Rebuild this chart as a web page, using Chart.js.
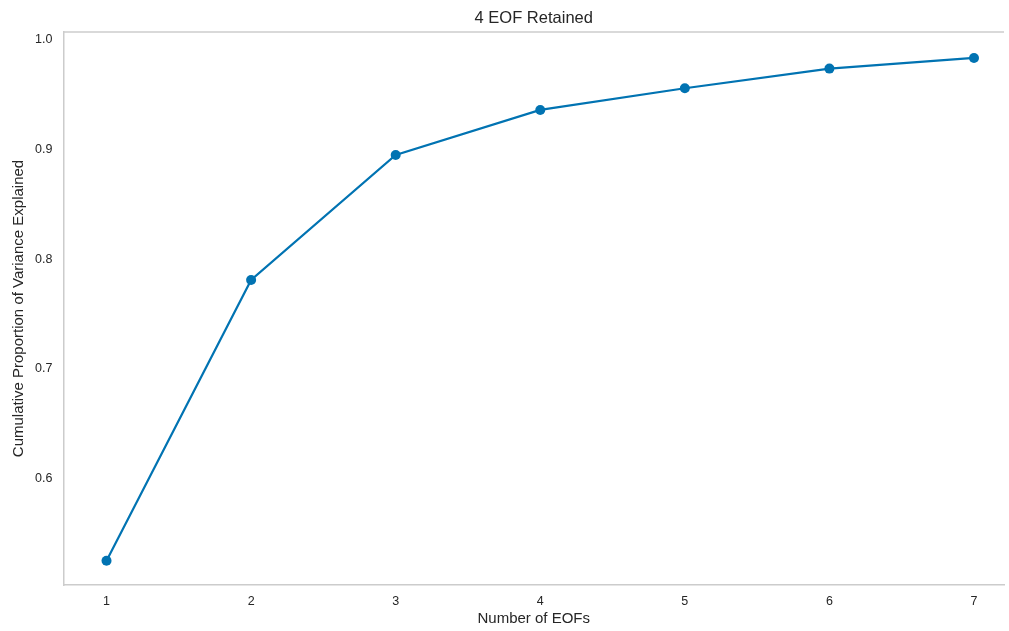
<!DOCTYPE html>
<html>
<head>
<meta charset="utf-8">
<script src="https://cdn.jsdelivr.net/npm/chart.js@4.4.0/dist/chart.umd.min.js"></script>
<style>
  html, body { margin: 0; padding: 0; background: #fff; }
  #wrap { width: 1009px; height: 631px; }
</style>
</head>
<body>
<div id="wrap"><canvas id="chart" width="1009" height="631"></canvas></div>
<script>
// Data
const eofCounts = [1, 2, 3, 4, 5, 6, 7];
const cumVariance = [0.5256, 0.781, 0.8947, 0.9357, 0.9554, 0.9733, 0.983];
const yTickValues = [0.6, 0.7, 0.8, 0.9, 1.0];

const lineColor = "#0173b2";
const textColor = "#262626";
const spineColor = "#cccccc";
const font = "'Liberation Sans', Arial, sans-serif";

// top spine (matplotlib box, no right spine)
const topSpine = {
  id: "topSpine",
  afterDraw(chart) {
    const a = chart.chartArea, c = chart.ctx;
    c.save();
    c.strokeStyle = spineColor;
    c.lineWidth = 1.5;
    c.beginPath();
    c.moveTo(a.left, a.top);
    c.lineTo(a.right, a.top);
    c.stroke();
    c.restore();
  }
};

const ctx = document.getElementById("chart").getContext("2d");

new Chart(ctx, {
  type: "line",
  data: {
    datasets: [{
      label: "Cumulative variance",
      data: eofCounts.map((x, i) => ({ x: x, y: cumVariance[i] })),
      borderColor: lineColor,
      backgroundColor: lineColor,
      borderWidth: 2.2,
      pointRadius: 5,
      pointBorderWidth: 0,
      pointBackgroundColor: lineColor,
      tension: 0
    }]
  },
  options: {
    responsive: false,
    animation: false,
    layout: { padding: { left: 0, right: 0, top: 0, bottom: 0 } },
    plugins: {
      legend: { display: false },
      tooltip: { enabled: false },
      title: {
        display: true,
        text: "4 EOF Retained",
        color: textColor,
        fullSize: false,
        font: { family: font, size: 16.5, weight: "normal" },
        padding: { top: 8.4, bottom: 3.8 }
      }
    },
    scales: {
      x: {
        type: "linear",
        min: 0.7024,
        max: 7.2076,
        afterBuildTicks: s => { s.ticks = eofCounts.map(v => ({ value: v })); },
        afterFit: s => { s.height = 46; },
        grid: { display: false, drawTicks: false },
        border: { display: true, color: spineColor, width: 1.5 },
        ticks: { color: textColor, padding: 9, font: { family: font, size: 12.5 } },
        title: {
          display: true,
          text: "Number of EOFs",
          color: textColor,
          font: { family: font, size: 15 },
          padding: { top: 0, bottom: 3 }
        }
      },
      y: {
        type: "linear",
        min: 0.5035,
        max: 1.0066,
        afterBuildTicks: s => { s.ticks = yTickValues.map(v => ({ value: v })); },
        afterFit: s => { s.width = 63.5; },
        grid: { display: false, drawTicks: false },
        border: { display: true, color: spineColor, width: 1.5 },
        ticks: {
          color: textColor,
          padding: 11,
          font: { family: font, size: 12.5 },
          callback: v => v.toFixed(1)
        },
        title: {
          display: true,
          text: "Cumulative Proportion of Variance Explained",
          color: textColor,
          font: { family: font, size: 15 },
          padding: { top: 10, bottom: 0 }
        }
      }
    }
  },
  plugins: [topSpine]
});
</script>
</body>
</html>
